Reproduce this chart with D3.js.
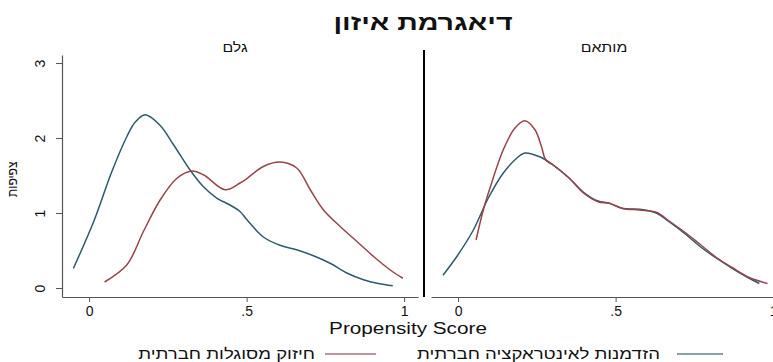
<!DOCTYPE html>
<html>
<head>
<meta charset="utf-8">
<script src="https://cdn.jsdelivr.net/npm/d3@7/dist/d3.min.js"></script>
<style>
  html, body { margin: 0; padding: 0; background: #fff; }
  svg { display: block; }
  text { font-family: "Liberation Sans", Arial, "DejaVu Sans", sans-serif; fill: #111; }
</style>
</head>
<body>
<svg id="chart" width="773" height="362"></svg>
<script>
// Kernel density of the propensity score, before (raw) and after matching
const chartTitle = "דיאגרמת איזון";
const panelTitles = ["גלם", "מותאם"];
const xTitle = "Propensity Score";
const yTitle = "צפיפות";
const seriesNames = ["הזדמנות לאינטראקציה חברתית", "חיזוק מסוגלות חברתית"];
const seriesColors = ["#2c5b6c", "#97454a"];

const xTickValues = [0, 0.5, 1];
const xTickLabels = ["0", ".5", "1"];
const yTickValues = [0, 1, 2, 3];
const yTickLabels = ["0", "1", "2", "3"];

// Raw sample
const rawBlueX = [-0.050, 0.014, 0.072, 0.120, 0.146, 0.178, 0.225, 0.268, 0.321, 0.363, 0.405, 0.450, 0.479, 0.501, 0.553, 0.606, 0.659, 0.712, 0.765, 0.818, 0.871, 0.918, 0.964];
const rawBlueY = [0.26, 0.88, 1.55, 2.02, 2.21, 2.31, 2.17, 1.91, 1.57, 1.35, 1.20, 1.10, 1.02, 0.91, 0.68, 0.57, 0.51, 0.43, 0.33, 0.20, 0.11, 0.06, 0.03];
const rawRedX = [0.049, 0.120, 0.172, 0.225, 0.278, 0.326, 0.363, 0.432, 0.479, 0.501, 0.553, 0.606, 0.659, 0.702, 0.744, 0.797, 0.850, 0.903, 0.956, 0.996];
const rawRedY = [0.08, 0.31, 0.75, 1.17, 1.46, 1.56, 1.51, 1.31, 1.40, 1.46, 1.62, 1.68, 1.60, 1.31, 1.04, 0.82, 0.62, 0.42, 0.24, 0.13];

// Matched sample
const matchedBlueX = [-0.048, -0.004, 0.048, 0.096, 0.143, 0.186, 0.212, 0.259, 0.302, 0.354, 0.397, 0.444, 0.480, 0.523, 0.576, 0.629, 0.671, 0.724, 0.766, 0.819, 0.871, 0.924, 0.956];
const matchedBlueY = [0.17, 0.42, 0.77, 1.20, 1.53, 1.73, 1.80, 1.75, 1.64, 1.46, 1.28, 1.16, 1.13, 1.06, 1.05, 1.00, 0.88, 0.71, 0.56, 0.40, 0.26, 0.13, 0.06];
const matchedRedX = [0.057, 0.080, 0.101, 0.143, 0.180, 0.212, 0.244, 0.265, 0.278, 0.302, 0.354, 0.397, 0.444, 0.480, 0.523, 0.576, 0.629, 0.671, 0.724, 0.766, 0.819, 0.871, 0.924, 0.982];
const matchedRedY = [0.64, 1.04, 1.33, 1.84, 2.13, 2.23, 2.11, 1.88, 1.71, 1.64, 1.46, 1.27, 1.15, 1.13, 1.06, 1.04, 1.01, 0.89, 0.73, 0.59, 0.41, 0.27, 0.14, 0.06];

const panelSeries = [
  [[rawBlueX, rawBlueY], [rawRedX, rawRedY]],
  [[matchedBlueX, matchedBlueY], [matchedRedX, matchedRedY]]
];

const svg = d3.select("#chart");
const panelLeft = [62, 431];
const panelWidth = 356;
const plotTop = 55, plotBottom = 297;
const stretch = 1.22; // text is drawn slightly wide

const y = d3.scaleLinear().domain([-0.12, 3.107]).range([plotBottom, plotTop]);

// text placed at (x, y) and widened horizontally
function wideText(x, yPos, str, size, anchor, sx, weight) {
  return svg.append("text")
    .attr("transform", `translate(${x},${yPos}) scale(${sx},1)`)
    .attr("text-anchor", anchor)
    .style("font-size", size + "px")
    .style("font-weight", weight || "normal")
    .text(str);
}

// Title
wideText(423, 30, chartTitle, 22, "middle", 1.3, "bold");

panelTitles.forEach((t, i) => {
  const x = d3.scaleLinear().domain([-0.086, 1.044]).range([panelLeft[i], panelLeft[i] + panelWidth]);
  const g = svg.append("g");

  wideText(panelLeft[i] + panelWidth / 2 - 5, 52, t, 13, "middle", stretch);

  // x axis
  const xAxis = d3.axisBottom(x)
    .tickValues(xTickValues)
    .tickFormat((d, k) => xTickLabels[k])
    .tickSize(5).tickPadding(4).tickSizeOuter(0);
  const ax = g.append("g").attr("transform", `translate(0,${plotBottom})`).call(xAxis);
  ax.select(".domain").attr("stroke", "#555").attr("stroke-width", 1.2);
  ax.selectAll(".tick line").attr("stroke", "#555");
  ax.selectAll(".tick text").style("font-size", "14px").attr("fill", "#222");

  // density curves
  const line = d3.line()
    .x(d => x(d[0])).y(d => y(d[1]))
    .curve(d3.curveCatmullRom.alpha(0.5));
  panelSeries[i].forEach((s, k) => {
    const pts = s[0].map((v, j) => [v, s[1][j]]);
    g.append("path")
      .datum(pts)
      .attr("d", line)
      .attr("fill", "none")
      .attr("stroke", seriesColors[k])
      .attr("stroke-width", 1.5);
  });
});

// y axis on the left panel
const yAxis = d3.axisLeft(y)
  .tickValues(yTickValues)
  .tickFormat((d, k) => yTickLabels[k])
  .tickSize(6).tickSizeOuter(0);
const ay = svg.append("g").attr("transform", `translate(${panelLeft[0]},0)`).call(yAxis);
ay.select(".domain").attr("stroke", "#555").attr("stroke-width", 1.2);
ay.selectAll(".tick line").attr("stroke", "#555");
ay.selectAll(".tick text")
  .style("font-size", "14px").attr("fill", "#222")
  .attr("x", null).attr("dy", null)
  .attr("text-anchor", "middle")
  .attr("transform", "translate(-22,0) rotate(-90)")
  .attr("y", 5);

svg.append("text")
  .attr("transform", `translate(17,${y(1.45)}) rotate(-90) scale(1,1.15)`)
  .attr("text-anchor", "middle")
  .style("font-size", "12px")
  .text(yTitle);

// divider between panels
svg.append("line")
  .attr("x1", 424).attr("x2", 424)
  .attr("y1", 50).attr("y2", plotBottom)
  .attr("stroke", "#000").attr("stroke-width", 2);

// x axis title
wideText(408, 334, xTitle, 17, "middle", stretch);

// legend
const legendItems = [
  { name: seriesNames[0], color: seriesColors[0], x1: 677, x2: 723, tx: 660 },
  { name: seriesNames[1], color: seriesColors[1], x1: 325, x2: 376, tx: 315 }
];
legendItems.forEach(d => {
  svg.append("line")
    .attr("x1", d.x1).attr("x2", d.x2)
    .attr("y1", 354).attr("y2", 354)
    .attr("stroke", d.color).attr("stroke-width", 1.3).attr("opacity", 0.75);
  wideText(d.tx, 359, d.name, 15, "end", 1.24);
});
</script>
</body>
</html>
